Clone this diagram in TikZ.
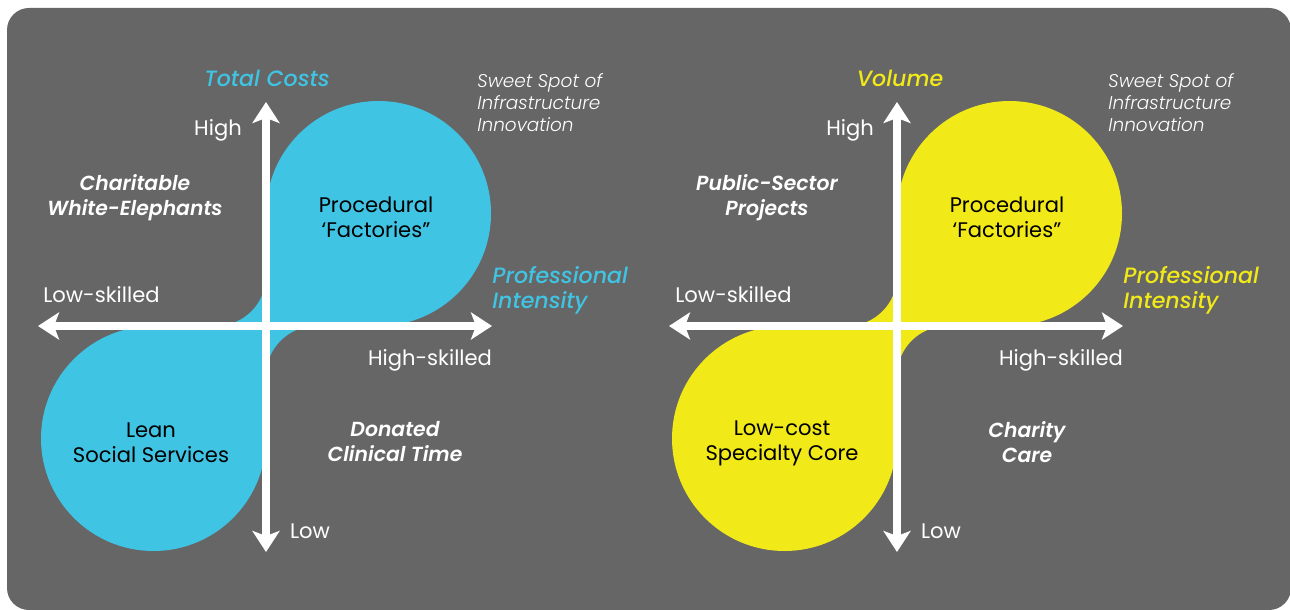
\documentclass[tikz,border=0pt]{standalone}
\usepackage{fontspec}
\setmainfont{Poppins}
\newfontfamily\poplight{Poppins Light}[ItalicFont={Poppins Light Italic}]
\newfontfamily\popmed{Poppins Medium}[ItalicFont={Poppins Medium Italic}]
\newfontfamily\popsemi{Poppins SemiBold}[ItalicFont={Poppins SemiBold Italic}]
\usepackage{tikz}
\usetikzlibrary{arrows.meta, positioning}

\definecolor{panelgrey}{RGB}{102,102,102}
\definecolor{costblue}{RGB}{64,196,228}
\definecolor{volyellow}{RGB}{241,233,24}

\begin{document}
\begin{tikzpicture}[x=0.02cm,y=0.02cm,
	axis/.style={white,line width=0.16cm,{Stealth[length=0.42cm,width=0.54cm,inset=0.1cm]}-{Stealth[length=0.42cm,width=0.54cm,inset=0.1cm]}},
	tick/.style={text=white,font=\fontsize{12}{14.2}\selectfont,inner sep=0pt},
	quad/.style={text=white,font=\popsemi\itshape\fontsize{11.6}{14.2}\selectfont,align=center,inner sep=0pt},
	blob/.style={text=black,font=\fontsize{12}{14.2}\selectfont,align=center,inner sep=0pt},
	title/.style={font=\popmed\itshape\fontsize{12.6}{14.2}\selectfont,inner sep=0pt},
	sweet/.style={text=white,font=\poplight\itshape\fontsize{10.5}{12.5}\selectfont,align=left,anchor=north west,inner sep=0pt}]
	\useasboundingbox (0,0) rectangle (1290,609);
	\clip (0,0) rectangle (1290,609);
	\fill[panelgrey,rounded corners=0.44cm] (7,-1) rectangle (1291,601);

	% left panel: total costs
	\coordinate (O1) at (266,283);
	\fill[costblue] (O1) -- ++(0,112.5) arc[start angle=180,end angle=-90,radius=112.5] -- cycle;
	\fill[costblue] (O1) -- ++(0,-112.5) arc[start angle=0,end angle=-270,radius=112.5] -- cycle;
	\fill[costblue] (O1) -- ++(-50,0) arc[start angle=-90,end angle=0,radius=50] -- cycle;
	\fill[costblue] (O1) -- ++(50,0) arc[start angle=90,end angle=180,radius=50] -- cycle;
	\coordinate (t1) at (266,507);
	\coordinate (b1) at (266,57);
	\coordinate (l1) at (38,283);
	\coordinate (r1) at (492,283);
	\draw[axis] (b1) -- (t1);
	\draw[axis] (l1) -- (r1);
	\node[title,text=costblue] (cost) at (267,531) {Total Costs};
	\node[tick] (high1) at (218,479) {High};
	\node[tick] (low1) at (310,78) {Low};
	\node[tick,anchor=west] (lskill1) at (43,314) {Low-skilled};
	\node[tick] (hskill1) at (430,249) {High-skilled};
	\node[title,text=costblue,align=left,anchor=west] (prof1) at (492,319) {Professional\\Intensity};
	\node[sweet] (sweet1) at (477,536) {Sweet Spot of\\Infrastructure\\Innovation};
	\node[quad] (ul1) at (135,411) {Charitable\\White-Elephants};
	\node[quad] (lr1) at (395,167) {Donated\\Clinical Time};
	\node[blob] (ur1) at (376,392) {Procedural\\‘Factories”};
	\node[blob] (ll1) at (151,166) {Lean\\Social Services};

	% right panel: volume
	\coordinate (O2) at (897,283);
	\fill[volyellow] (O2) -- ++(0,112.5) arc[start angle=180,end angle=-90,radius=112.5] -- cycle;
	\fill[volyellow] (O2) -- ++(0,-112.5) arc[start angle=0,end angle=-270,radius=112.5] -- cycle;
	\fill[volyellow] (O2) -- ++(-50,0) arc[start angle=-90,end angle=0,radius=50] -- cycle;
	\fill[volyellow] (O2) -- ++(50,0) arc[start angle=90,end angle=180,radius=50] -- cycle;
	\coordinate (t2) at (897,507);
	\coordinate (b2) at (897,57);
	\coordinate (l2) at (669,283);
	\coordinate (r2) at (1123,283);
	\draw[axis] (b2) -- (t2);
	\draw[axis] (l2) -- (r2);
	\node[title,text=volyellow] (vol) at (900,531) {Volume};
	\node[tick] (high2) at (850,479) {High};
	\node[tick] (low2) at (941,78) {Low};
	\node[tick,anchor=west] (lskill2) at (675,314) {Low-skilled};
	\node[tick] (hskill2) at (1061,249) {High-skilled};
	\node[title,text=volyellow,align=left,anchor=west] (prof2) at (1123,319) {Professional\\Intensity};
	\node[sweet] (sweet2) at (1108,536) {Sweet Spot of\\Infrastructure\\Innovation};
	\node[quad] (ul2) at (767,411) {Public-Sector\\Projects};
	\node[quad] (lr2) at (1027,167) {Charity\\Care};
	\node[blob] (ur2) at (1007,392) {Procedural\\‘Factories”};
	\node[blob] (ll2) at (782,166) {Low-cost\\Specialty Core};
\end{tikzpicture}
\end{document}
